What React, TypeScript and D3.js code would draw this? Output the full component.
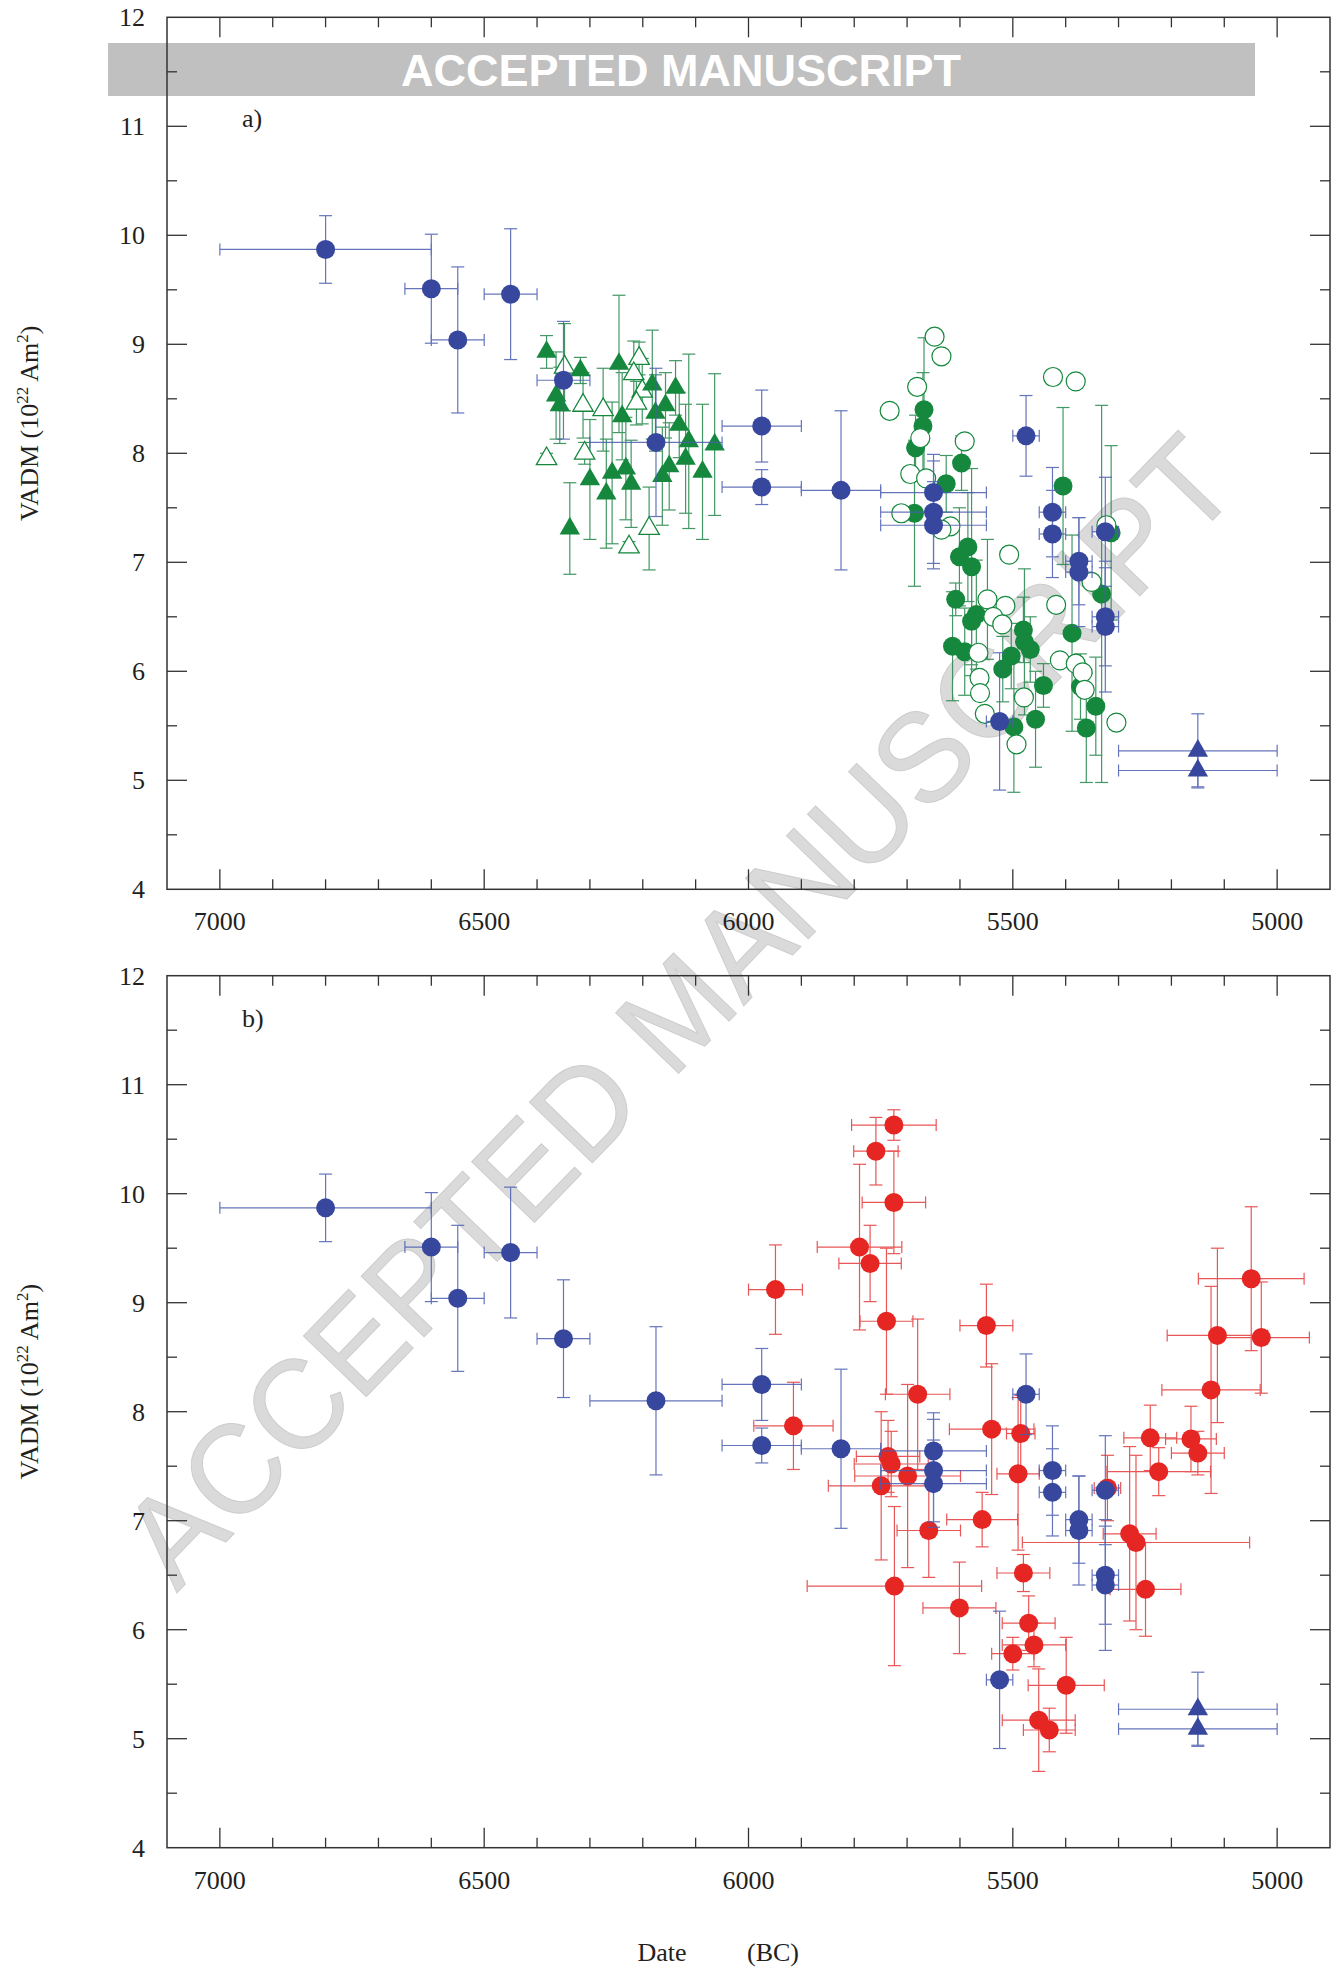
import * as d3 from "d3";

// [year BC, VADM, ±years, ±VADM]
const blueCircles = [
  [6800, 9.87, 200, 0.31],
  [6600, 9.51, 50, 0.5],
  [6550, 9.04, 50, 0.67],
  [6450, 9.46, 50, 0.6],
  [6350, 8.67, 50, 0.54],
  [6175, 8.1, 125, 0.68],
  [5975, 8.25, 75, 0.33],
  [5975, 7.69, 75, 0.16],
  [5825, 7.66, 75, 0.73],
  [5650, 7.64, 100, 0.35],
  [5650, 7.46, 100, 0.47],
  [5650, 7.34, 100, 0.4],
  [5525, 5.54, 25, 0.63],
  [5475, 8.16, 25, 0.37],
  [5425, 7.46, 25, 0.41],
  [5425, 7.26, 25, 0.4],
  [5375, 7.01, 25, 0.4],
  [5375, 6.91, 25, 0.5],
  [5325, 7.28, 25, 0.5],
  [5325, 6.5, 25, 0.45],
  [5325, 6.41, 25, 0.6],
];
const blueTriangles = [
  [5150, 5.27, 150, 0.34],
  [5150, 5.09, 150, 0.15],
];

// [year BC, VADM, ±VADM]
const greenTrianglesFilled = [
  [6382, 8.93, 0.15], [6318, 8.76, 0.12], [6364, 8.53, 0.4], [6357, 8.44, 0.35],
  [6245, 8.82, 0.63], [6239, 8.34, 0.4], [6182, 8.63, 0.5], [6138, 8.6, 0.25],
  [6157, 8.44, 0.3], [6176, 8.37, 0.35], [6131, 8.26, 0.3], [6113, 8.11, 0.8],
  [6064, 8.08, 0.65], [6119, 7.95, 0.5], [6150, 7.88, 0.4], [6163, 7.79, 0.45],
  [6087, 7.83, 0.62], [6300, 7.76, 0.55], [6258, 7.82, 0.65], [6232, 7.86, 0.47],
  [6222, 7.72, 0.4], [6269, 7.63, 0.5], [6338, 7.31, 0.42],
];
const greenTrianglesOpen = [
  [6348, 8.79, 0.4], [6207, 8.87, 0.15], [6217, 8.73, 0.3], [6201, 8.57, 0.3],
  [6212, 8.46, 0.2], [6313, 8.44, 0.3], [6275, 8.4, 0.38], [6310, 8.0, 0.1],
  [6382, 7.95, 0.05], [6188, 7.31, 0.38], [6226, 7.14, 0.05],
];
const greenCirclesFilled = [
  [5668, 8.4, 0.66], [5670, 8.25, 0.49], [5684, 8.05, 0.3], [5597, 7.91, 0.25],
  [5626, 7.72, 0.26], [5686, 7.45, 0.67], [5585, 7.14, 0.5], [5601, 7.05, 0.45],
  [5578, 6.96, 0.9], [5608, 6.66, 0.15], [5569, 6.52, 0.5], [5578, 6.46, 0.5],
  [5480, 6.38, 0.3], [5478, 6.27, 0.67], [5467, 6.2, 0.3], [5614, 6.23, 0.5],
  [5591, 6.18, 0.4], [5503, 6.14, 0.3], [5519, 6.02, 0.3], [5442, 5.87, 0.2],
  [5498, 5.49, 0.6], [5457, 5.56, 0.44], [5405, 7.7, 0.72], [5388, 6.35, 0.9],
  [5372, 5.86, 0.3], [5343, 5.68, 0.45], [5361, 5.48, 0.5], [5332, 6.71, 1.73],
  [5314, 7.27, 0.8],
];
const greenCirclesOpen = [
  [5648, 9.07, 0], [5635, 8.89, 0], [5681, 8.61, 0], [5733, 8.39, 0],
  [5675, 8.14, 0], [5591, 8.11, 0], [5694, 7.81, 0], [5664, 7.77, 0],
  [5711, 7.45, 0], [5618, 7.33, 0], [5635, 7.3, 0], [5507, 7.07, 0],
  [5548, 6.66, 0.55], [5514, 6.6, 0], [5418, 6.61, 0], [5537, 6.5, 0],
  [5520, 6.43, 0], [5565, 6.17, 0], [5563, 5.94, 0], [5562, 5.8, 0],
  [5479, 5.76, 0], [5553, 5.61, 0], [5493, 5.33, 0], [5411, 6.1, 0],
  [5381, 6.07, 0], [5368, 5.99, 0], [5364, 5.83, 0], [5304, 5.53, 0],
  [5351, 6.82, 0], [5323, 7.34, 0], [5424, 8.7, 0], [5381, 8.66, 0],
];

// [year BC, VADM, ±years, ±VADM]
const redCircles = [
  [5725, 10.63, 80, 0.14], [5759, 10.39, 42, 0.31], [5725, 9.92, 60, 0.47],
  [5790, 9.51, 80, 0.76], [5770, 9.36, 59, 0.35], [5949, 9.12, 51, 0.41],
  [5739, 8.83, 50, 0.67], [5550, 8.79, 50, 0.38], [5680, 8.16, 61, 0.69],
  [5049, 9.22, 100, 0.66], [5113, 8.7, 95, 0.8], [5030, 8.68, 91, 0.51],
  [5125, 8.2, 93, 0.95], [5915, 7.87, 75, 0.4], [5540, 7.84, 80, 0.6],
  [5485, 7.8, 27, 0.35], [5736, 7.59, 60, 0.33], [5730, 7.52, 70, 0.3],
  [5699, 7.41, 100, 0.84], [5749, 7.32, 100, 0.68], [5490, 7.43, 40, 0.7],
  [5659, 6.91, 60, 0.43], [5558, 7.01, 67, 0.25], [5724, 6.4, 165, 0.73],
  [5601, 6.2, 69, 0.42], [5480, 6.52, 50, 0.17], [5470, 6.06, 50, 0.25],
  [5460, 5.86, 60, 0.2], [5500, 5.78, 40, 0.15], [5399, 5.49, 72, 0.44],
  [5451, 5.17, 69, 0.47], [5431, 5.08, 49, 0.2], [5240, 7.76, 50, 0.3],
  [5163, 7.75, 48, 0.3], [5150, 7.62, 50, 0.2], [5224, 7.45, 98, 0.22],
  [5321, 7.3, 25, 0.3], [5279, 6.88, 50, 0.8], [5267, 6.8, 215, 0.8],
  [5249, 6.37, 67, 0.43],
];

const xMajor = [7000, 6500, 6000, 5500, 5000];
const yMajor = [4, 5, 6, 7, 8, 9, 10, 11, 12];

const BLUE = "#36479d";
const BLUE_BAR = "#4b5db0";
const GREEN = "#15883d";
const GREEN_BAR = "#23864a";
const RED = "#e52623";
const RED_BAR = "#e6393a";
const AXIS = "#333";
const SERIF = "'Liberation Serif', 'Times New Roman', serif";
const SANS = "'Liberation Sans', Arial, sans-serif";

const left = 167;
const right = 1330;
const x = d3.scaleLinear().domain([7100, 4900]).range([left, right]);

const panels = [
  { top: 17.3, bottom: 889.3, name: "a)", nameY: 127 },
  { top: 975.7, bottom: 1847.7, name: "b)", nameY: 1027 },
];

const triPath = d3.symbol().type(d3.symbolTriangle).size(180)() as string;

const withNoXErr = (arr) => arr.map((d) => [d[0], d[1], 0, d[2]]);

function ErrorBars({ data, y, color }) {
  const cap = 6.5;
  return (
    <g stroke={color} strokeWidth={1.2} fill="none" opacity={0.85}>
      {data.map((d, i) => {
        const [yr, v, xe, ye] = d;
        const cx = x(yr);
        const cy = y(v);
        const parts = [];
        if (ye > 0) {
          const y0 = y(v - ye);
          const y1 = y(v + ye);
          parts.push(<line key="v" x1={cx} x2={cx} y1={y0} y2={y1} />);
          parts.push(<line key="c0" x1={cx - cap} x2={cx + cap} y1={y0} y2={y0} />);
          parts.push(<line key="c1" x1={cx - cap} x2={cx + cap} y1={y1} y2={y1} />);
        }
        if (xe > 0) {
          const x0 = x(yr + xe);
          const x1 = x(yr - xe);
          parts.push(<line key="h" x1={x0} x2={x1} y1={cy} y2={cy} />);
          parts.push(<line key="d0" x1={x0} x2={x0} y1={cy - 6} y2={cy + 6} />);
          parts.push(<line key="d1" x1={x1} x2={x1} y1={cy - 6} y2={cy + 6} />);
        }
        return <g key={i}>{parts}</g>;
      })}
    </g>
  );
}

function Circles({ data, y, fill, stroke }) {
  return (
    <g>
      {data.map((d, i) => (
        <circle key={i} cx={x(d[0])} cy={y(d[1])} r={9.5}
          fill={fill} stroke={stroke || "none"} strokeWidth={1.2} />
      ))}
    </g>
  );
}

function Triangles({ data, y, fill, stroke }) {
  return (
    <g>
      {data.map((d, i) => (
        <path key={i} d={triPath} transform={`translate(${x(d[0])},${y(d[1])})`}
          fill={fill} stroke={stroke || "none"} strokeWidth={1.3} />
      ))}
    </g>
  );
}

function Frame({ p, y }) {
  const xTicks = d3.range(5000, 7001, 100);
  const yTicks = d3.range(4.5, 12, 0.5);
  return (
    <g>
      <g stroke={AXIS} strokeWidth={1.3}>
        {xTicks.map((t) => {
          const len = t % 500 === 0 ? 20 : 10;
          return (
            <g key={t}>
              <line x1={x(t)} x2={x(t)} y1={p.bottom} y2={p.bottom - len} />
              <line x1={x(t)} x2={x(t)} y1={p.top} y2={p.top + len} />
            </g>
          );
        })}
        {yTicks.map((t) => {
          const len = Number.isInteger(t) ? 20 : 10;
          return (
            <g key={t}>
              <line x1={left} x2={left + len} y1={y(t)} y2={y(t)} />
              <line x1={right} x2={right - len} y1={y(t)} y2={y(t)} />
            </g>
          );
        })}
      </g>
      <rect x={left} y={p.top} width={right - left} height={p.bottom - p.top}
        fill="none" stroke={AXIS} strokeWidth={1.5} />
      <g fontFamily={SERIF} fontSize={26} fill="#231f20">
        {yMajor.map((t) => (
          <text key={t} x={145} y={y(t)} dy="0.35em" textAnchor="end">{t}</text>
        ))}
        {xMajor.map((t) => (
          <text key={t} x={x(t)} y={p.bottom + 32} dy="0.35em" textAnchor="middle">{t}</text>
        ))}
        <text x={242} y={p.nameY}>{p.name}</text>
      </g>
      <text transform={`translate(38,${(p.top + p.bottom) / 2 - 30}) rotate(-90)`}
        fontFamily={SERIF} fontSize={26} fill="#231f20" textAnchor="middle">
        VADM (10<tspan dy="-10" fontSize={17}>22</tspan>
        <tspan dy="10"> Am</tspan><tspan dy="-10" fontSize={17}>2</tspan>
        <tspan dy="10">)</tspan>
      </text>
    </g>
  );
}

export default function App() {
  const ya = d3.scaleLinear().domain([4, 12]).range([panels[0].bottom, panels[0].top]);
  const yb = d3.scaleLinear().domain([4, 12]).range([panels[1].bottom, panels[1].top]);

  return (
    <svg width={1339} height={1970} style={{ position: "absolute", left: 0, top: 0, display: "block" }}>
      <rect width={1339} height={1970} fill="#fff" />

      {/* diagonal watermark */}
      <text transform="translate(678,1010) rotate(-46)" textAnchor="middle" dy="0.35em"
        fontFamily={SANS} fontSize={127} fill="#dadada" stroke="#cdcdcd" strokeWidth={1}
        textLength={1535} lengthAdjust="spacingAndGlyphs">
        ACCEPTED MANUSCRIPT
      </text>

      {/* banner */}
      <rect x={108} y={43} width={1147} height={53} fill="#c0c0c0" />
      <text x={681} y={86} textAnchor="middle" fontFamily={SANS} fontWeight="bold"
        fontSize={45} fill="#fff" textLength={560} lengthAdjust="spacingAndGlyphs">
        ACCEPTED MANUSCRIPT
      </text>

      {/* panel a */}
      <Frame p={panels[0]} y={ya} />
      <ErrorBars data={withNoXErr(greenTrianglesFilled)} y={ya} color={GREEN_BAR} />
      <ErrorBars data={withNoXErr(greenTrianglesOpen)} y={ya} color={GREEN_BAR} />
      <ErrorBars data={withNoXErr(greenCirclesFilled)} y={ya} color={GREEN_BAR} />
      <ErrorBars data={withNoXErr(greenCirclesOpen)} y={ya} color={GREEN_BAR} />
      <Triangles data={greenTrianglesOpen} y={ya} fill="#fff" stroke={GREEN} />
      <Triangles data={greenTrianglesFilled} y={ya} fill={GREEN} />
      <Circles data={greenCirclesFilled} y={ya} fill={GREEN} />
      <Circles data={greenCirclesOpen} y={ya} fill="#fff" stroke={GREEN} />
      <ErrorBars data={blueCircles} y={ya} color={BLUE_BAR} />
      <ErrorBars data={blueTriangles} y={ya} color={BLUE_BAR} />
      <Circles data={blueCircles} y={ya} fill={BLUE} />
      <Triangles data={blueTriangles} y={ya} fill={BLUE} />

      {/* panel b */}
      <Frame p={panels[1]} y={yb} />
      <ErrorBars data={redCircles} y={yb} color={RED_BAR} />
      <Circles data={redCircles} y={yb} fill={RED} />
      <ErrorBars data={blueCircles} y={yb} color={BLUE_BAR} />
      <ErrorBars data={blueTriangles} y={yb} color={BLUE_BAR} />
      <Circles data={blueCircles} y={yb} fill={BLUE} />
      <Triangles data={blueTriangles} y={yb} fill={BLUE} />

      <g fontFamily={SERIF} fontSize={26} fill="#231f20">
        <text x={662} y={1961} textAnchor="middle">Date</text>
        <text x={773} y={1961} textAnchor="middle">(BC)</text>
      </g>
    </svg>
  );
}
